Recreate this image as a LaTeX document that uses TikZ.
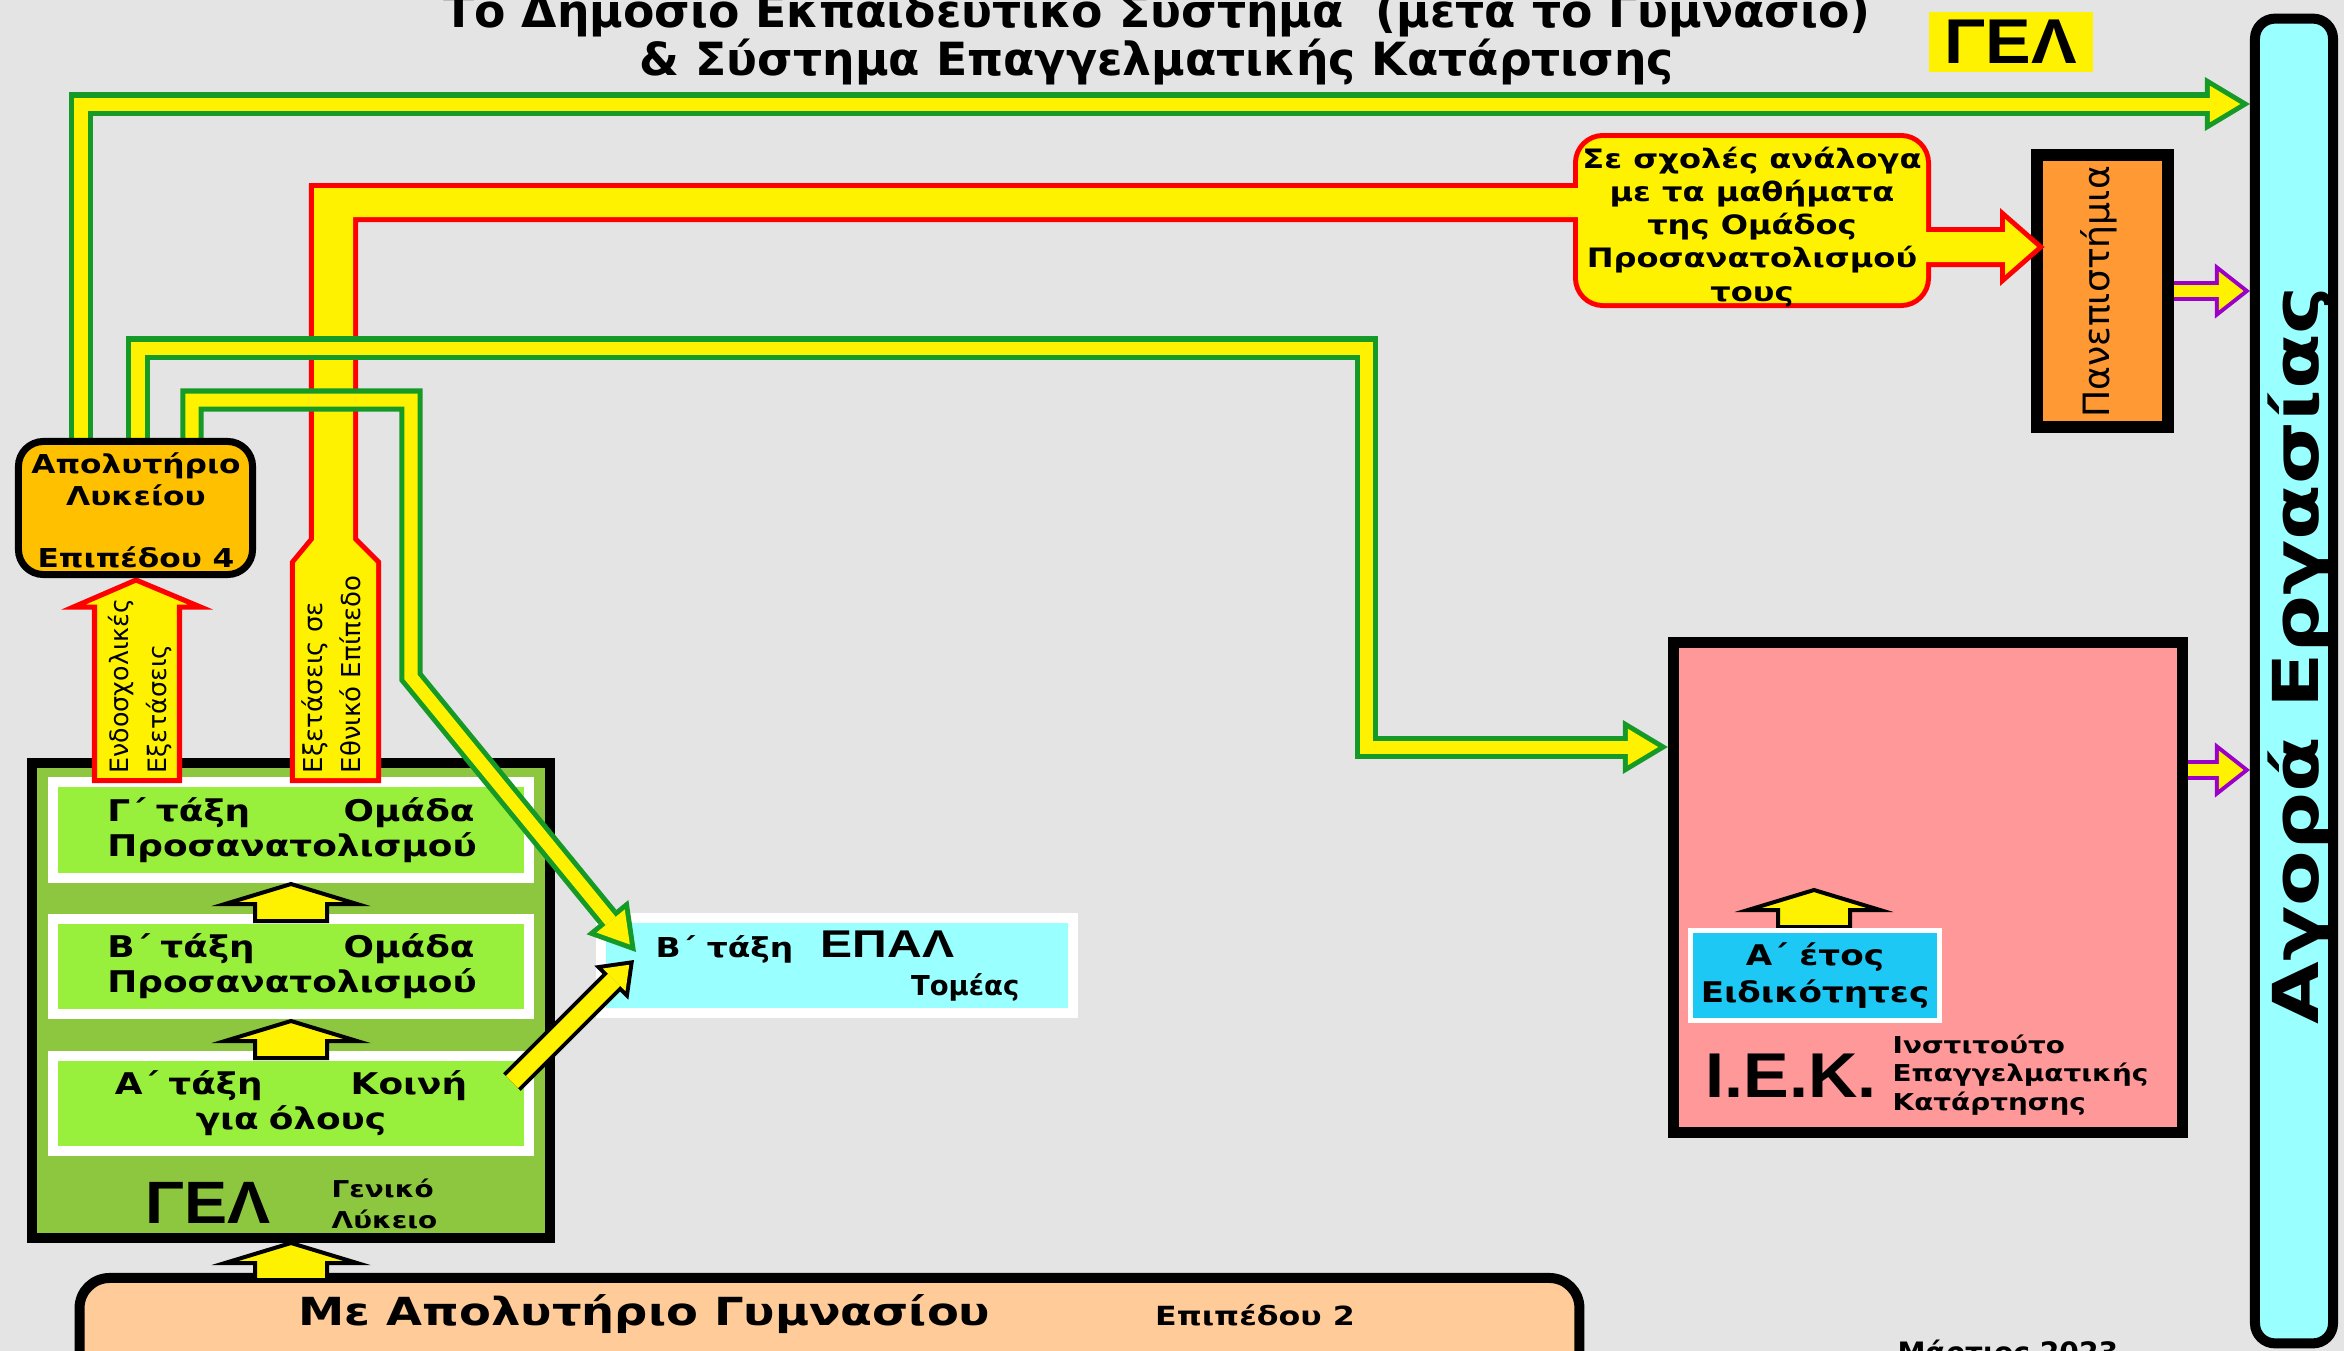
\documentclass[tikz,border=0pt]{standalone}
\usepackage{fontspec}
\setmainfont{DejaVu Sans}[FakeStretch=1.2]
\newfontfamily\plainfont{DejaVu Sans}
\newfontfamily\arialfont{Liberation Sans}[FakeStretch=1.08]
\usetikzlibrary{arrows.meta}

\definecolor{bgray}{HTML}{E4E4E4}
\definecolor{pipegreen}{HTML}{159A28}
\definecolor{gelgreen}{HTML}{8DC63F}
\definecolor{limegreen}{HTML}{99F03C}
\definecolor{agoracyan}{HTML}{99FFFF}
\definecolor{iekpink}{HTML}{FF9999}
\definecolor{unioran}{HTML}{FF9933}
\definecolor{apogold}{HTML}{FFC000}
\definecolor{gympeach}{HTML}{FFCC99}
\definecolor{etosblue}{HTML}{1EC8F5}
\definecolor{arrpurple}{HTML}{9A00C8}

\tikzset{
  pipeout/.style={draw=pipegreen, line width=2.3mm, line join=miter, -{Triangle[length=4.5mm, width=5.4mm, line width=0pt]}},
  pipein/.style={draw=yellow, line width=1.3mm, line join=miter, shorten >=0.97mm, -{Triangle[length=3.03mm, width=3.64mm, line width=0pt]}},
  blkout/.style={draw=black, line width=2.5mm, -{Triangle[length=3.2mm, width=4.8mm, line width=0pt]}},
  blkin/.style={draw=yellow, line width=1.7mm, shorten >=0.67mm, -{Triangle[length=2.13mm, width=3.2mm, line width=0pt]}},
  purpout/.style={draw=arrpurple, line width=2mm, -{Triangle[length=3.5mm, width=5.5mm, line width=0pt]}},
  purpin/.style={draw=yellow, line width=1.2mm, shorten >=0.65mm, -{Triangle[length=2.45mm, width=3.85mm, line width=0pt]}},
  classbox/.style={draw=white, line width=1mm, fill=limegreen, minimum width=4.76cm, minimum height=0.95cm,
    text width=3.67cm, align=center, inner sep=0pt, font=\bfseries\fontsize{8.5}{10}\selectfont},
  uparr/.pic={\draw[fill=yellow, line width=0.4mm, line join=miter] (-36,0) -- (-36,-17) -- (-66,-17) -- (0,-37) -- (66,-17) -- (36,-17) -- (36,0) -- cycle;}
}

\begin{document}
\begin{tikzpicture}[x=0.01cm, y=-0.01cm]

\useasboundingbox (0,0) rectangle (2344,1351);
\fill[bgray] (0,0) rectangle (2344,1351);

% Title and tag
\node[anchor=base, inner sep=0pt, font=\plainfont\bfseries\fontsize{13}{15}\selectfont] (title1) at (1157,27) {Το Δημόσιο Εκπαιδευτικό Σύστημα \ (μετά το Γυμνάσιο)};
\node[anchor=base, inner sep=0pt, font=\plainfont\bfseries\fontsize{13}{15}\selectfont] (title2) at (1157,75) {\& Σύστημα Επαγγελματικής Κατάρτισης};
\node[fill=yellow, minimum width=1.64cm, minimum height=0.6cm, inner sep=0pt, font=\arialfont\bfseries\fontsize{18}{18}\selectfont] (geltag) at (2011,42) {ΓΕΛ};

% Labour market column
\node[draw, line width=1mm, rounded corners=2mm, fill=agoracyan, minimum width=0.78cm, minimum height=13.24cm, inner sep=0pt] (agora) at (2294,681) {};
\node[rotate=90, inner sep=0pt, font=\plainfont\bfseries\fontsize{18}{20}\selectfont] (agoratxt) at (2300,655) {\scalebox{1.28}[1]{Αγορά Εργασίας}};

% Universities
\node[draw, line width=1.2mm, fill=unioran, minimum width=1.31cm, minimum height=2.72cm, inner sep=0pt] (uni) at (2102.5,291) {};
\node[rotate=90, inner sep=0pt, font=\plainfont\fontsize{10.3}{12}\selectfont] (unitxt) at (2099,292) {Πανεπιστήμια};

% General lyceum with its three classes
\node[draw, line width=1mm, fill=gelgreen, minimum width=5.18cm, minimum height=4.75cm, inner sep=0pt] (gel) at (291,1000.5) {};
\node[classbox] (gclass) at (291,830) {Γ΄ τάξη\hfill Ομάδα\\Προσανατολισμού};
\node[classbox] (bclass) at (291,966.5) {Β΄ τάξη\hfill Ομάδα\\Προσανατολισμού};
\node[classbox, text width=3.52cm] (aclass) at (291,1103.5) {Α΄ τάξη\hfill Κοινή\\για όλους};
\pic at (291,921) {uparr};
\pic at (291,1058) {uparr};
\node[inner sep=0pt, font=\arialfont\bfseries\fontsize{17}{17}\selectfont] (gelname) at (208,1203) {ΓΕΛ};
\node[anchor=west, align=left, inner sep=0pt, font=\bfseries\fontsize{6.6}{9}\selectfont] (gelfull) at (331,1204) {Γενικό\\Λύκειο};

% Vocational lyceum class
\node[draw=white, line width=1mm, fill=agoracyan, minimum width=4.72cm, minimum height=0.95cm, inner sep=0pt] (epal) at (837,965.5) {};
\node[anchor=base west, inner sep=0pt, font=\bfseries\fontsize{7.8}{9}\selectfont] (epal1) at (655,957) {Β΄ τάξη\quad{\arialfont\bfseries\fontsize{11}{11}\selectfont\scalebox{1.15}[1]{ΕΠΑΛ}}};
\node[anchor=base east, inner sep=0pt, font=\plainfont\bfseries\fontsize{7.8}{9}\selectfont] (epal2) at (1020,995) {Τομέας};

% Vocational training institute
\node[draw, line width=1.1mm, fill=iekpink, minimum width=5.09cm, minimum height=4.9cm, inner sep=0pt] (iek) at (1928,887.5) {};
\pic at (1814,927) {uparr};
\node[draw=white, line width=0.5mm, fill=etosblue, minimum width=2.49cm, minimum height=0.9cm, align=center, inner sep=0pt, font=\bfseries\fontsize{8.1}{10.5}\selectfont] (etos) at (1815,975.5) {Α΄ έτος\\Ειδικότητες};
\node[inner sep=0pt, font=\arialfont\bfseries\fontsize{18}{18}\selectfont] (iekname) at (1791,1076) {Ι.Ε.Κ.};
\node[anchor=west, align=left, inner sep=0pt, font=\bfseries\fontsize{6.6}{8}\selectfont] (iekfull) at (1892,1075) {Ινστιτούτο\\Επαγγελματικής\\Κατάρτησης};

% National exams route (outline first, then the yellow fill)
\draw[red, line width=1mm, line join=miter] (295,778) -- (295,563) -- (314,540) -- (314,188) -- (1600,188) -- (1600,217) -- (353,217) -- (353,540) -- (376,563) -- (376,778) -- cycle;
\draw[red, line width=1mm, rounded corners=2.5mm] (1578,138) rectangle (1926,303);
\draw[red, line width=1mm, line join=miter] (1900,232) -- (2005,232) -- (2005,219) -- (2037,247) -- (2005,275) -- (2005,262) -- (1900,262) -- cycle;
\fill[yellow] (295,778) -- (295,563) -- (314,540) -- (314,188) -- (1600,188) -- (1600,217) -- (353,217) -- (353,540) -- (376,563) -- (376,778) -- cycle;
\fill[yellow, rounded corners=2.5mm] (1578,138) rectangle (1926,303);
\fill[yellow] (1900,232) -- (2005,232) -- (2005,219) -- (2037,247) -- (2005,275) -- (2005,262) -- (1900,262) -- cycle;
\node[align=center, inner sep=0pt, font=\bfseries\fontsize{7.6}{9.4}\selectfont] (schools) at (1752,227) {Σε σχολές ανάλογα\\με τα μαθήματα\\της Ομάδος\\Προσανατολισμού\\τους};
\node[rotate=90, anchor=west, align=left, inner sep=0pt, font=\plainfont\fontsize{7.4}{10.8}\selectfont] (natexams) at (331,774) {Εξετάσεις σε\\Εθνικό Επίπεδο};

% School exams arrow
\draw[red, line width=0.5mm, fill=yellow, line join=miter] (94.5,780.5) -- (94.5,607) -- (73.5,607) -- (136,580) -- (200.5,607) -- (179.5,607) -- (179.5,780.5) -- cycle;
\node[rotate=90, anchor=west, align=left, inner sep=0pt, font=\plainfont\fontsize{7.2}{10.8}\selectfont] (schexams) at (140,774) {Ενδοσχολικές\\Εξετάσεις};

% Routes out of the lyceum certificate
\coordinate (agoratop) at (agora.west |- 0,104);
\coordinate (iekin) at (iek.west |- 0,747);
\coordinate (epalin) at (636,952);
\draw[pipeout] (81,438) |- (agoratop);
\draw[pipein] (81,438) |- (agoratop);
\draw[pipeout] (138,438) |- (1366,348) |- (iekin);
\draw[pipein] (138,438) |- (1366,348) |- (iekin);
\draw[pipeout] (192,438) |- (411,400) -- (411,677) -- (epalin);
\draw[pipein] (192,438) |- (411,400) -- (411,677) -- (epalin);

% From A class to EPAL
\coordinate (aout) at (512,1082);
\coordinate (epalin2) at (634,960);
\draw[blkout] (aout) -- (epalin2);
\draw[blkin] (aout) -- (epalin2);

% Lyceum certificate
\node[draw, line width=0.7mm, rounded corners=2.5mm, fill=apogold, minimum width=2.34cm, minimum height=1.33cm, inner sep=0pt] (apo) at (135.5,508) {};
\node[align=center, inner sep=0pt, font=\bfseries\fontsize{7.4}{9.1}\selectfont] (apotxt) at (136,479) {Απολυτήριο\\Λυκείου};
\node[inner sep=0pt, font=\bfseries\fontsize{7.4}{9}\selectfont] (apolvl) at (136,557) {Επιπέδου 4};

% Into the labour market
\coordinate (iekout) at (iek.east |- 0,770);
\draw[purpout] (uni.east) -- (uni.east -| agora.west);
\draw[purpin] (uni.east) -- (uni.east -| agora.west);
\draw[purpout] (iekout) -- (iekout -| agora.west);
\draw[purpin] (iekout) -- (iekout -| agora.west);

% Gymnasium certificate
\node[draw, line width=1mm, rounded corners=3mm, fill=gympeach, minimum width=14.99cm, minimum height=1.17cm, inner sep=0pt] (gym) at (829.5,1336.5) {};
\node[anchor=base, inner sep=0pt, font=\bfseries\fontsize{11}{12}\selectfont] (gymtxt) at (644.5,1325) {Με Απολυτήριο Γυμνασίου};
\node[anchor=base, inner sep=0pt, font=\bfseries\fontsize{7.5}{8}\selectfont] (gymlvl) at (1255,1325) {Επιπέδου 2};
\pic at (291,1280) {uparr};

\node[anchor=base west, inner sep=0pt, font=\plainfont\bfseries\fontsize{8}{9}\selectfont] (date) at (1897,1362) {Μάρτιος 2023};

\end{tikzpicture}
\end{document}
